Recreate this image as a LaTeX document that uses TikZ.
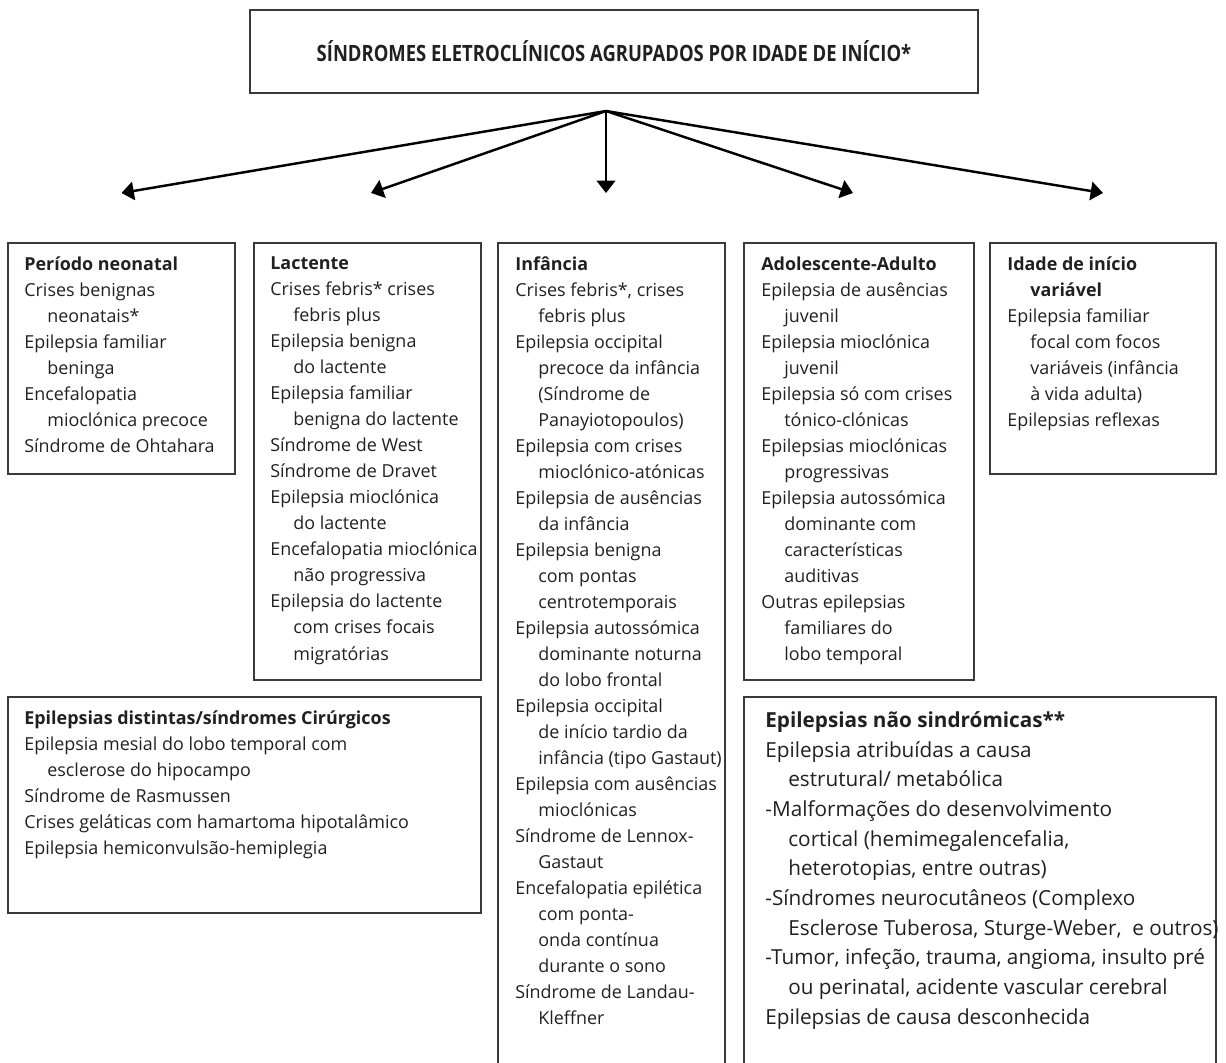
\documentclass[tikz,border=0pt]{standalone}
\usepackage{fontspec}
\setmainfont{Open Sans}
\newfontfamily\headfont{Open Sans}[FakeStretch=0.82]
\usetikzlibrary{calc,arrows.meta}
\definecolor{ink}{HTML}{231F20}
\definecolor{rule}{HTML}{3A3A3A}
\def\ind{\hspace*{0.46cm}}
\tikzset{
  grp/.style 2 args={draw=rule, line width=0.85pt, anchor=north west, inner sep=0pt, outer sep=0pt,
    minimum width=#1*0.02cm, minimum height=#2*0.02cm},
  lst/.style={anchor=north west, align=left, inner sep=0pt, text=ink, font=\fontsize{10.2}{14.8}\selectfont,
    execute at begin node=\strut},
  arr/.style={line width=1.4pt, -{Triangle[length=7pt,width=10.5pt]}}
}

\begin{document}
\begin{tikzpicture}[x=0.02cm,y=-0.02cm]
		%%%%% START %%%%%
		\useasboundingbox (0,0) rectangle (1226,1062);
		\clip (0,0) rectangle (1226,1062);
		
		\node[grp={728}{83}, text=ink, font=\headfont\bfseries\fontsize{12.8}{14}\selectfont] (top) at (250,10)
		  {SÍNDROMES ELETROCLÍNICOS AGRUPADOS POR IDADE DE INÍCIO*};
		\coordinate (hub) at ($(top.south)+(-8,18)$);
		
		\node[grp={227}{231}] (neo) at (8,243) {};
		\node[grp={227}{437}] (lac) at (254,243) {};
		\node[grp={227}{840}] (inf) at (498,243) {};
		\node[grp={230}{437}] (ado) at (744,243) {};
		\node[grp={226}{231}] (var) at (990,243) {};
		\node[grp={473}{216}] (cir) at (8,697) {};
		\node[grp={472}{380}] (nsd) at (744,697) {};
		
		\foreach \b/\dx in {neo/0, lac/3.5, inf/-5.5, ado/-6, var/0}
		  \draw[arr] (hub) -- ($(\b.north)+(\dx,-50)$);
		
		\node[lst] (neotxt) at ($(neo.north west)+(16,13.8)$) {\textbf{Período neonatal}\\
		  Crises benignas\\ \ind neonatais*\\
		  Epilepsia familiar\\ \ind beninga\\
		  Encefalopatia\\ \ind mioclónica precoce\\
		  Síndrome de Ohtahara};
		
		\node[lst] (lactxt) at ($(lac.north west)+(16,13.8)$) {\textbf{Lactente}\\
		  Crises febris* crises\\ \ind febris plus\\
		  Epilepsia benigna\\ \ind do lactente\\
		  Epilepsia familiar\\ \ind benigna do lactente\\
		  Síndrome de West\\
		  Síndrome de Dravet\\
		  Epilepsia mioclónica\\ \ind do lactente\\
		  Encefalopatia mioclónica\\ \ind não progressiva\\
		  Epilepsia do lactente\\ \ind com crises focais\\ \ind migratórias};
		
		\node[lst] (inftxt) at ($(inf.north west)+(17,13.8)$) {\textbf{Infância}\\
		  Crises febris*, crises\\ \ind febris plus\\
		  Epilepsia occipital\\ \ind precoce da infância\\ \ind (Síndrome de\\ \ind Panayiotopoulos)\\
		  Epilepsia com crises\\ \ind mioclónico-atónicas\\
		  Epilepsia de ausências\\ \ind da infância\\
		  Epilepsia benigna\\ \ind com pontas\\ \ind centrotemporais\\
		  Epilepsia autossómica\\ \ind dominante noturna\\ \ind do lobo frontal\\
		  Epilepsia occipital\\ \ind de início tardio da\\ \ind infância (tipo Gastaut)\\
		  Epilepsia com ausências\\ \ind mioclónicas\\
		  Síndrome de Lennox-\\ \ind Gastaut\\
		  Encefalopatia epilética\\ \ind com ponta-\\ \ind onda contínua\\ \ind durante o sono\\
		  Síndrome de Landau-\\ \ind Kleffner};
		
		\node[lst] (adotxt) at ($(ado.north west)+(17,13.8)$) {\textbf{Adolescente-Adulto}\\
		  Epilepsia de ausências\\ \ind juvenil\\
		  Epilepsia mioclónica\\ \ind juvenil\\
		  Epilepsia só com crises\\ \ind tónico-clónicas\\
		  Epilepsias mioclónicas\\ \ind progressivas\\
		  Epilepsia autossómica\\ \ind dominante com\\ \ind características\\ \ind auditivas\\
		  Outras epilepsias\\ \ind familiares do\\ \ind lobo temporal};
		
		\node[lst] (vartxt) at ($(var.north west)+(17,13.8)$) {\textbf{Idade de início}\\
		  \ind\textbf{variável}\\
		  Epilepsia familiar\\ \ind focal com focos\\ \ind variáveis (infância\\ \ind à vida adulta)\\
		  Epilepsias reflexas};
		
		\node[lst] (cirtxt) at ($(cir.north west)+(16,13.8)$) {\textbf{Epilepsias distintas/síndromes Cirúrgicos}\\
		  Epilepsia mesial do lobo temporal com\\ \ind esclerose do hipocampo\\
		  Síndrome de Rasmussen\\
		  Crises geláticas com hamartoma hipotalâmico\\
		  Epilepsia hemiconvulsão-hemiplegia};
		
		\node[lst, font=\fontsize{11.8}{16.9}\selectfont] (nsdtxt) at ($(nsd.north west)+(21,14.2)$) {\textbf{Epilepsias não sindrómicas**}\\
		  Epilepsia atribuídas a causa\\ \ind estrutural/ metabólica\\
		  -Malformações do desenvolvimento\\ \ind cortical (hemimegalencefalia,\\ \ind heterotopias, entre outras)\\
		  -Síndromes neurocutâneos (Complexo\\ \ind Esclerose Tuberosa, Sturge-Weber,~ e outros)\\
		  -Tumor, infeção, trauma, angioma, insulto pré\\ \ind ou perinatal, acidente vascular cerebral\\
		  Epilepsias de causa desconhecida};
		
		%%%%% END %%%%%
\end{tikzpicture}
\end{document}
